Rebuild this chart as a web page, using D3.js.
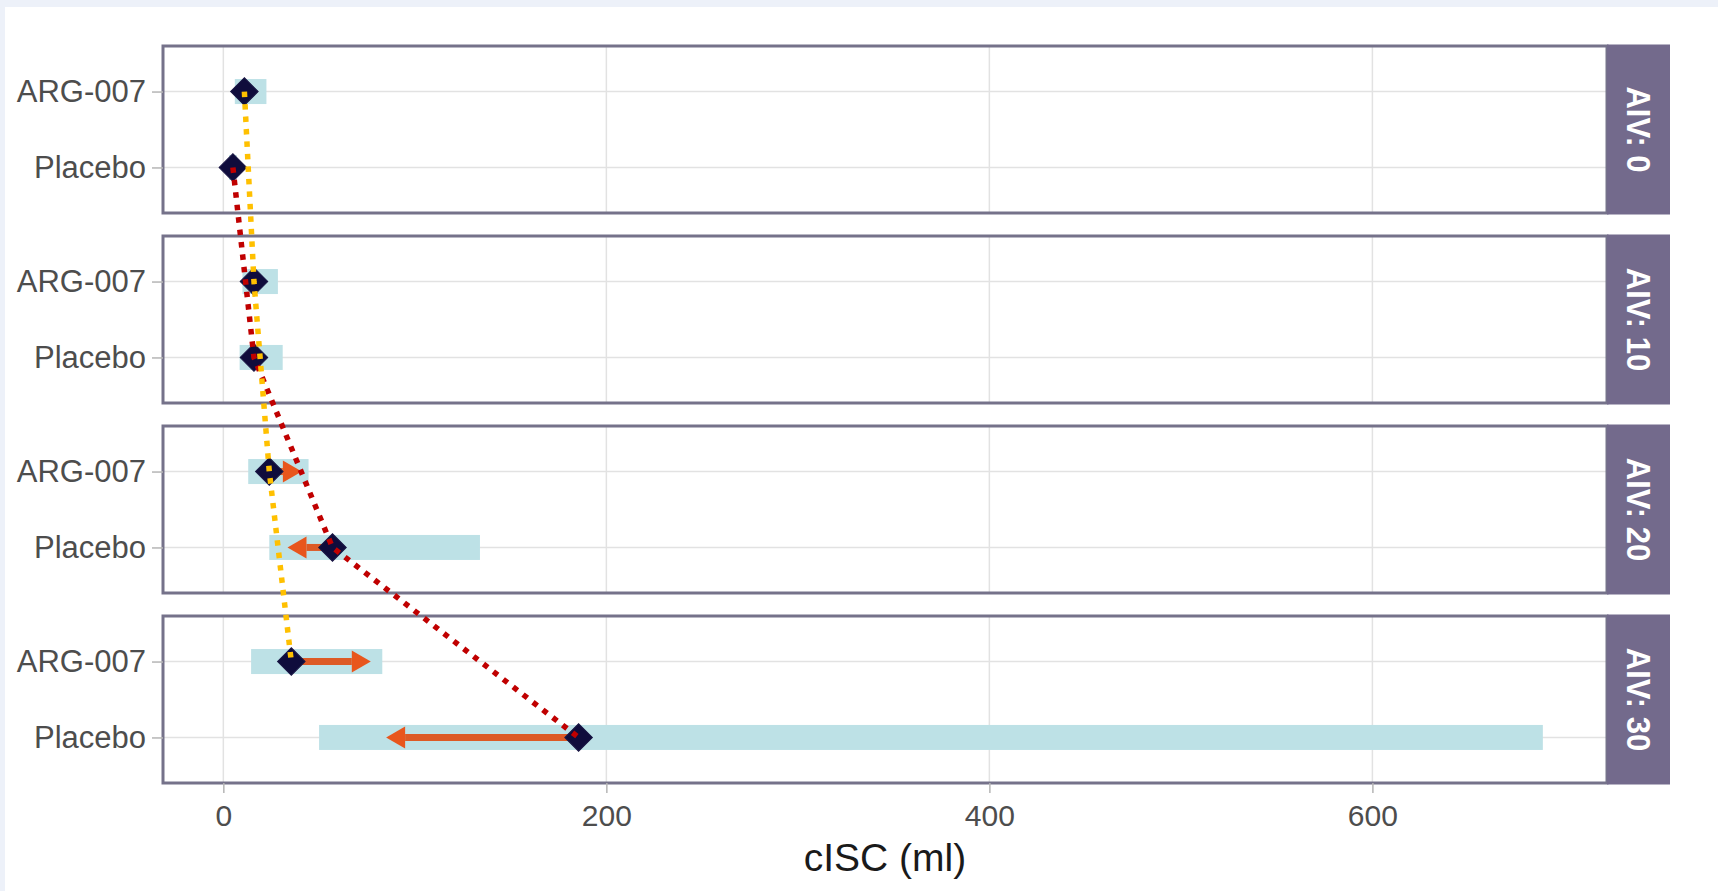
<!DOCTYPE html>
<html>
<head>
<meta charset="utf-8">
<script src="https://cdn.jsdelivr.net/npm/d3@7"></script>
<style>
    body { margin: 0; background: #ffffff; }
    svg { display: block; }
    text { font-family: "Liberation Sans", Arial, sans-serif; }
</style>
</head>
<body>
<svg id="chart" width="1718" height="891"></svg>
<script>
// facet levels and groups
const aivLevels = ["AIV: 0", "AIV: 10", "AIV: 20", "AIV: 30"];
const groups = ["ARG-007", "Placebo"];

// ARG-007 per facet: mean, range of the band, where the arrow points
const argMean = [11, 16, 24, 35.5];
const argLow = [6, 10, 13, 14.5];
const argHigh = [22.5, 28.5, 44.5, 83];
const argArrowTo = [null, 11, 41, 77];

// Placebo per facet
const placeboMean = [5, 16, 57, 185.5];
const placeboLow = [3, 8.5, 24, 50];
const placeboHigh = [7, 31, 134, 689];
const placeboArrowTo = [null, 22, 33.5, 85];

const xTicks = [0, 200, 400, 600];
const xTitle = "cISC (ml)";

/** Faceted range chart with arrows and connecting dotted lines. */
class FacetChart {

    constructor(svgId) {
        this.svg = d3.select(svgId);
        this.width = parseInt(this.svg.attr("width"));
        this.height = parseInt(this.svg.attr("height"));

        this.panelLeft = 163;
        this.panelRight = 1607;
        this.stripWidth = 63;

        this.x = d3.scaleLinear()
            .domain([-31.5, 722.5])
            .range([this.panelLeft, this.panelRight]);

        this.panel = d3.scaleBand()
            .domain(aivLevels)
            .range([46, 783])
            .paddingInner(23 / 190)
            .paddingOuter(0);

        this.row = d3.scalePoint()
            .domain(groups)
            .range([0, this.panel.bandwidth()])
            .padding(0.6);

        // one record per facet and group
        this.rows = aivLevels.flatMap((aiv, i) => [
            {aiv: aiv, group: "ARG-007", mean: argMean[i], low: argLow[i], high: argHigh[i], to: argArrowTo[i]},
            {aiv: aiv, group: "Placebo", mean: placeboMean[i], low: placeboLow[i], high: placeboHigh[i], to: placeboArrowTo[i]}
        ]);
    }

    yOf(d) {
        return this.panel(d.aiv) + this.row(d.group);
    }

    draw() {
        // page background with the light band at top/left
        this.svg.append("rect")
            .attr("width", this.width).attr("height", this.height)
            .attr("fill", "#edf1f9");
        this.svg.append("rect")
            .attr("x", 5).attr("y", 7)
            .attr("width", this.width - 5).attr("height", this.height - 7)
            .attr("fill", "#ffffff");

        aivLevels.forEach(aiv => this.drawPanel(aiv));
        this.drawXAxis();
        this.drawLines();
    }

    drawPanel(aiv) {
        let x = this.x;
        let h = this.panel.bandwidth();
        let g = this.svg.append("g")
            .attr("transform", "translate(0," + this.panel(aiv) + ")");
        let data = this.rows.filter(d => d.aiv === aiv);

        g.append("rect")
            .attr("x", this.panelLeft).attr("y", 0)
            .attr("width", this.panelRight - this.panelLeft).attr("height", h)
            .attr("fill", "#ffffff");

        // grid
        g.selectAll(".vgrid")
            .data(xTicks)
            .enter().append("line")
            .attr("x1", d => x(d)).attr("x2", d => x(d))
            .attr("y1", 0).attr("y2", h)
            .attr("stroke", "#e2e2e2").attr("stroke-width", 1.5);

        g.selectAll(".hgrid")
            .data(groups)
            .enter().append("line")
            .attr("x1", this.panelLeft).attr("x2", this.panelRight)
            .attr("y1", d => this.row(d)).attr("y2", d => this.row(d))
            .attr("stroke", "#e2e2e2").attr("stroke-width", 1.5);

        // range bands
        let barH = 25;
        g.selectAll(".band")
            .data(data)
            .enter().append("rect")
            .attr("x", d => x(d.low))
            .attr("width", d => x(d.high) - x(d.low))
            .attr("y", d => this.row(d.group) - barH / 2)
            .attr("height", barH)
            .attr("fill", "#bde1e6");

        // arrows from the mean to the shifted value
        let headLen = 19, headW = 11;
        let arrows = data.filter(d => d.to !== null);
        arrows.forEach(d => {
            let y = this.row(d.group);
            let x0 = x(d.mean), x1 = x(d.to);
            let dir = x1 > x0 ? 1 : -1;
            let len = Math.min(headLen, Math.abs(x1 - x0));
            let base = x1 - dir * len;

            g.append("line")
                .attr("x1", x0).attr("x2", base)
                .attr("y1", y).attr("y2", y)
                .attr("stroke", "#dd5a26")
                .attr("stroke-width", 7);

            g.append("path")
                .attr("d", "M" + x1 + "," + y +
                    "L" + base + "," + (y - headW) +
                    "L" + base + "," + (y + headW) + "Z")
                .attr("fill", "#e8561d");
        });

        // diamonds for the means
        let diamond = d3.symbol().type(d3.symbolSquare).size(380);
        g.selectAll(".mean")
            .data(data)
            .enter().append("path")
            .attr("d", diamond)
            .attr("transform", d => "translate(" + x(d.mean) + "," + this.row(d.group) + ") rotate(45)")
            .attr("fill", "#0f0c3c")
            .attr("stroke", "#1a1745")
            .attr("stroke-width", 1);

        // border
        g.append("rect")
            .attr("x", this.panelLeft).attr("y", 0)
            .attr("width", this.panelRight - this.panelLeft).attr("height", h)
            .attr("fill", "none")
            .attr("stroke", "#75728a")
            .attr("stroke-width", 3);

        // strip on the right
        g.append("rect")
            .attr("x", this.panelRight).attr("y", -1.5)
            .attr("width", this.stripWidth).attr("height", h + 3)
            .attr("fill", "#736a8c");

        g.append("text")
            .attr("transform", "translate(" + (this.panelRight + this.stripWidth / 2) + "," + (h / 2) + ") rotate(90) scale(0.94,1)")
            .attr("text-anchor", "middle")
            .attr("dominant-baseline", "central")
            .attr("fill", "#ffffff")
            .attr("font-weight", "bold")
            .attr("font-size", 33)
            .text(aiv);

        // y axis labels
        let yAxis = d3.axisLeft(this.row).tickSize(11).tickPadding(6);
        let ya = g.append("g")
            .attr("transform", "translate(" + this.panelLeft + ",0)")
            .call(yAxis);
        ya.select(".domain").remove();
        ya.selectAll(".tick line").attr("stroke", "#b5b5b5").attr("stroke-width", 1.5);
        ya.selectAll(".tick text")
            .attr("font-size", 31)
            .attr("fill", "#4d4d4d");
    }

    drawXAxis() {
        let bottom = this.panel(aivLevels[aivLevels.length - 1]) + this.panel.bandwidth();
        let xAxis = d3.axisBottom(this.x).tickValues(xTicks).tickSize(10).tickPadding(12);
        let xa = this.svg.append("g")
            .attr("transform", "translate(0," + bottom + ")")
            .call(xAxis);
        xa.select(".domain").remove();
        xa.selectAll(".tick line").attr("stroke", "#b5b5b5").attr("stroke-width", 1.5);
        xa.selectAll(".tick text")
            .attr("font-size", 30)
            .attr("fill", "#4d4d4d");

        this.svg.append("text")
            .attr("x", (this.panelLeft + this.panelRight) / 2)
            .attr("y", 871)
            .attr("text-anchor", "middle")
            .attr("font-size", 39)
            .attr("fill", "#1a1a1a")
            .text(xTitle);
    }

    drawLines() {
        let line = d3.line()
            .x(d => this.x(d.mean))
            .y(d => this.yOf(d));

        let colors = {"Placebo": "#c00000", "ARG-007": "#ffc000"};
        ["Placebo", "ARG-007"].forEach(grp => {
            this.svg.append("path")
                .datum(this.rows.filter(d => d.group === grp))
                .attr("d", line)
                .attr("fill", "none")
                .attr("stroke", colors[grp])
                .attr("stroke-width", 5.5)
                .attr("stroke-dasharray", "5.5,7");
        });
    }
}

let chart = new FacetChart("#chart");
chart.draw();
</script>
</body>
</html>
